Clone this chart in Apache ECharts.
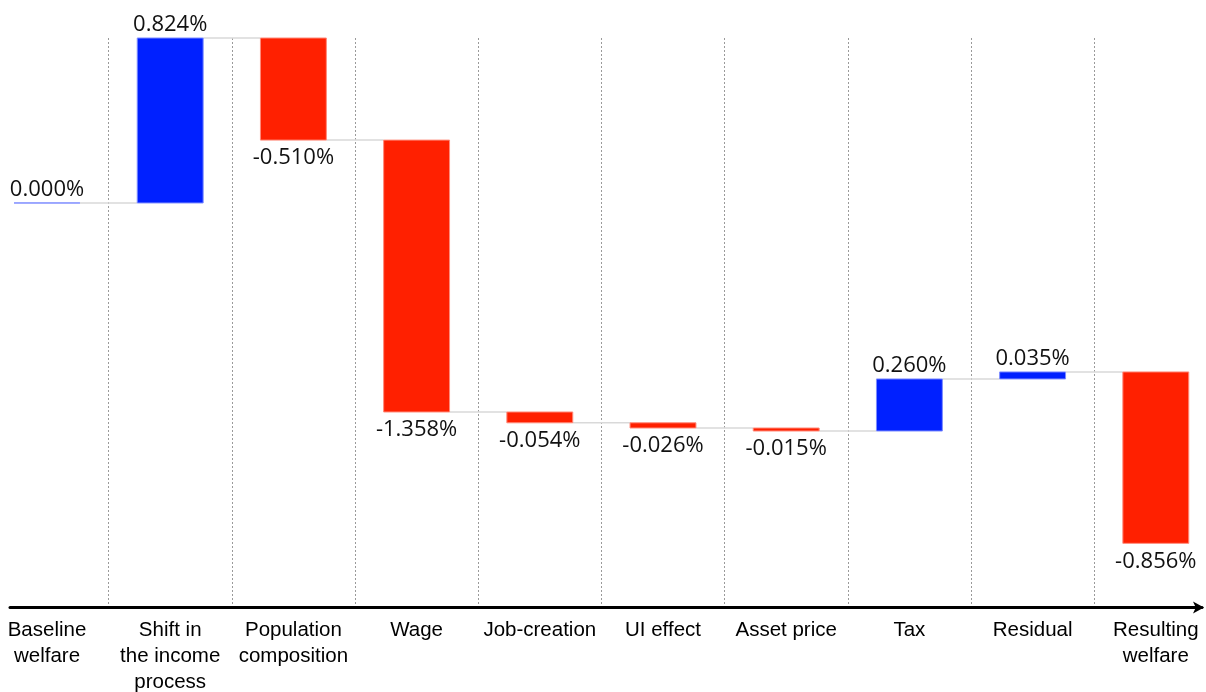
<!DOCTYPE html>
<html>
<head>
<meta charset="utf-8">
<title>Welfare decomposition</title>
<script src="https://cdn.jsdelivr.net/npm/echarts@6/dist/echarts.min.js"></script>
<style>
  html, body { margin: 0; padding: 0; background: #fff; }
  #chart { width: 1206px; height: 692px; }
</style>
</head>
<body>
<div id="chart"></div>
<script>
// Category labels along the x axis
const categories = [
  'Baseline\nwelfare',
  'Shift in\nthe income\nprocess',
  'Population\ncomposition',
  'Wage',
  'Job-creation',
  'UI effect',
  'Asset price',
  'Tax',
  'Residual',
  'Resulting\nwelfare'
];

// Change contributed by each step (percent)
const changes = [0.000, 0.824, -0.510, -1.358, -0.054, -0.026, -0.015, 0.260, 0.035, -0.856];

// Value range of the vertical scale (percent)
const yMin = -2.02;
const yMax = 0.824;

const UP_COLOR = '#0020ff';
const UP_EDGE = '#7d8cff';
const DOWN_COLOR = '#ff2000';
const DOWN_EDGE = '#ff8a7a';

// Each step starts where the running total left off
const steps = [];
let running = 0;
changes.forEach(function (c, i) {
  steps.push([i, running, running + c, c]);
  running += c;
});

const chart = echarts.init(document.getElementById('chart'));

function renderStep(params, api) {
  const i = api.value(0);
  const start = api.value(1);
  const end = api.value(2);
  const change = api.value(3);
  const p0 = api.coord([i, start]);
  const p1 = api.coord([i, end]);
  const band = api.size([1, 0])[0];
  const w = band * 0.535;
  const x = p0[0] - w / 2;
  const top = Math.min(p0[1], p1[1]);
  const bottom = Math.max(p0[1], p1[1]);
  const up = change >= 0;

  const children = [];

  // connector to the next step at the new running level
  if (params.dataIndex < params.dataInsideLength - 1) {
    children.push({
      type: 'line',
      shape: { x1: x + w, y1: p1[1], x2: x + band, y2: p1[1] },
      style: { stroke: '#d9d9d9', lineWidth: 1.5 },
      z2: 1
    });
  }

  children.push({
    type: 'rect',
    shape: { x: x, y: top, width: w, height: bottom - top },
    style: {
      fill: up ? UP_COLOR : DOWN_COLOR,
      stroke: up ? UP_EDGE : DOWN_EDGE,
      lineWidth: 1
    },
    z2: 2
  });

  children.push({
    type: 'text',
    style: {
      text: change.toFixed(3) + '%',
      x: p0[0],
      y: up ? top - 2 : bottom + 7,
      align: 'center',
      verticalAlign: up ? 'bottom' : 'top',
      fontSize: 22,
      fontFamily: '"Open Sans", "Noto Sans", sans-serif',
      fill: '#111'
    },
    z2: 3
  });

  return { type: 'group', children: children };
}

const option = {
  animation: false,
  backgroundColor: '#fff',
  grid: [
    { left: -14.6, right: -11.4, top: 38, bottom: 84.6, outerBoundsMode: 'none', containLabel: false },
    { left: 10, right: 4, top: 38, bottom: 84.6, outerBoundsMode: 'none', containLabel: false }
  ],
  xAxis: [
    {
      type: 'category',
      gridIndex: 0,
      data: categories,
      boundaryGap: true,
      axisLine: { show: false },
      axisTick: { show: false },
      splitLine: {
        show: true,
        lineStyle: { color: '#9a9a9a', width: 1, type: [2, 2] }
      },
      axisLabel: {
        interval: 0,
        margin: 10,
        color: '#000',
        fontSize: 20.5,
        lineHeight: 26,
        fontFamily: '"Liberation Sans", Arial, sans-serif',
        align: 'center'
      }
    },
    {
      type: 'value',
      gridIndex: 1,
      min: 0,
      max: 1,
      position: 'bottom',
      axisLine: {
        show: true,
        onZero: false,
        symbol: ['none', 'arrow'],
        symbolSize: [9, 11],
        symbolOffset: [0, 2],
        lineStyle: { color: '#000', width: 3 }
      },
      axisTick: { show: false },
      axisLabel: { show: false },
      splitLine: { show: false }
    }
  ],
  yAxis: [
    {
      type: 'value',
      gridIndex: 0,
      min: yMin,
      max: yMax,
      show: false
    },
    {
      type: 'value',
      gridIndex: 1,
      min: 0,
      max: 1,
      show: false
    }
  ],
  series: [
    {
      type: 'custom',
      xAxisIndex: 0,
      yAxisIndex: 0,
      clip: false,
      renderItem: renderStep,
      encode: { x: 0, y: [1, 2] },
      data: steps
    }
  ]
};

chart.setOption(option);
</script>
</body>
</html>
